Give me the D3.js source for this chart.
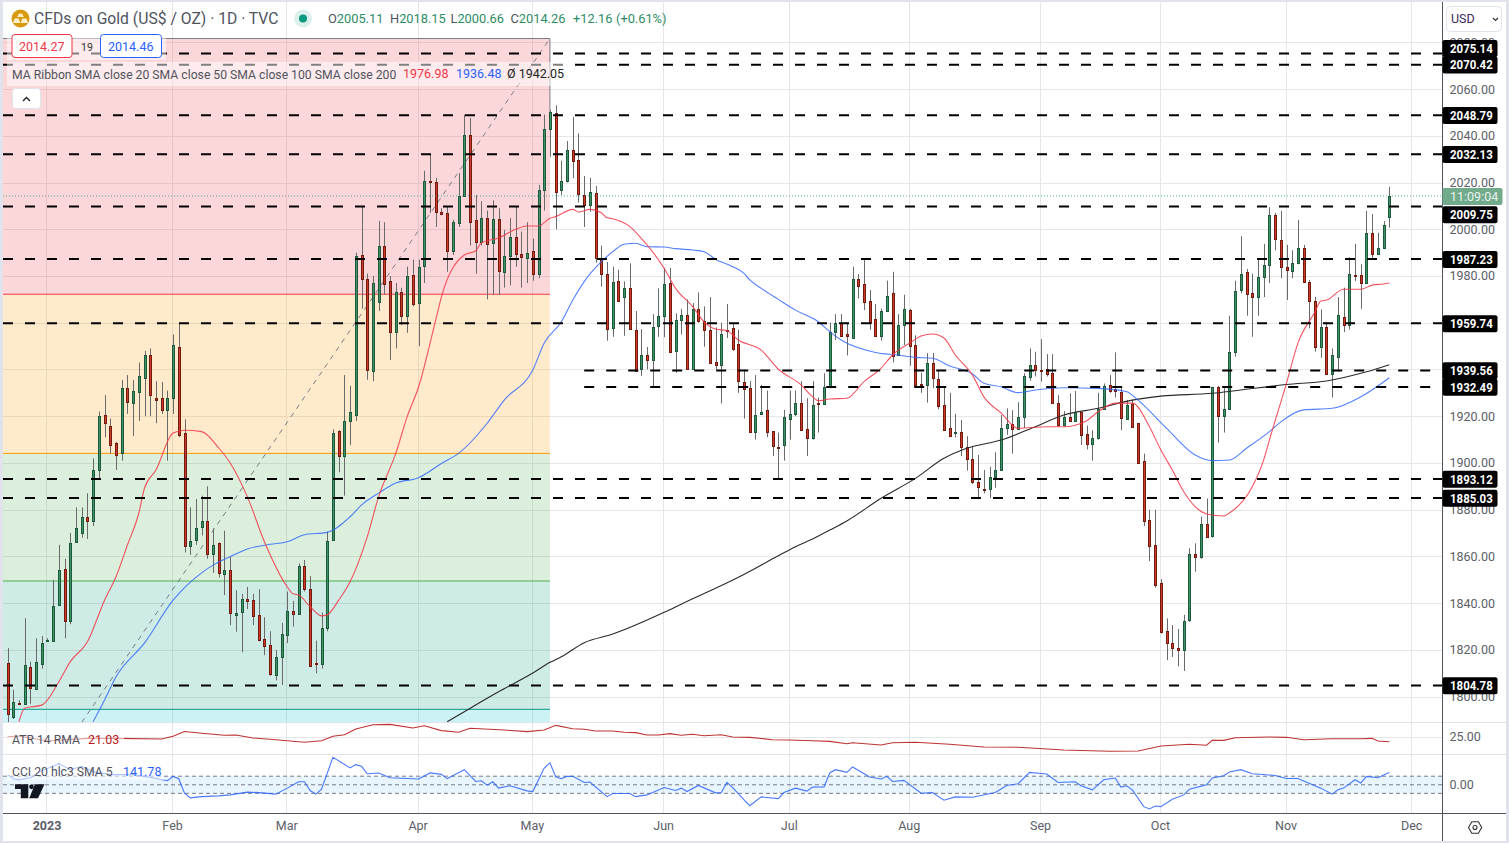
<!DOCTYPE html>
<html><head><meta charset="utf-8">
<style>
html,body{margin:0;padding:0;background:#e0e3eb;overflow:hidden}
svg{display:block}
text{font-family:Roboto,"Liberation Sans",sans-serif}
</style>
<script src="https://cdn.jsdelivr.net/npm/d3@7/dist/d3.min.js"></script>
</head><body><svg id="c" width="1509" height="843"></svg>
<script>
// ---- candle data, one entry per daily bar ----
const opens=[1814.4,1791,1797.3,1797,1812.6,1803.6,1814,1824,1824,1839,1854.6,1832.5,1866,1870,1877,1875,1897,1920.6,1916,1908.6,1904,1932,1926,1930,1936,1946,1928,1928,1923,1928,1949.6,1912.8,1864.6,1867,1872.6,1875,1861,1865.7,1852.6,1854,1835,1836,1842,1841.5,1834.8,1824.5,1822,1809.5,1817,1826.7,1836.8,1835.6,1856,1846,1814.3,1814,1829.6,1867,1913.5,1903,1918,1920.6,1989,1978.6,1939.5,1969,1993,1978,1955.7,1973,1963,1980.4,1968.6,1984,2020.5,2020.3,2007.5,2006.8,1990.4,2003,2014,2040.3,2004,1994.7,2005,1994,2004.4,1982,1988.7,1996.7,1989.4,1987.6,1990.8,1981,2016.5,2042.7,2049.6,2016.5,2020.7,2033.8,2029.5,2014.5,2010.4,2015.4,1987.8,1981,1957.6,1977.7,1971,1974.7,1957,1939.8,1946,1943.8,1958.3,1962.6,1977,1947.6,1961,1963.2,1940,1965.7,1960.6,1957,1943,1941.6,1957,1957.6,1950.8,1934.8,1932,1913.3,1921,1922.5,1913.5,1907,1907.7,1918.8,1921,1925.5,1914.4,1910.7,1925.5,1925,1932.6,1956,1960,1955,1953.3,1978.6,1976.5,1969.3,1961.5,1954.4,1965,1972.6,1946,1959,1965.3,1950.3,1933.6,1933.3,1942.6,1936,1925,1915,1912.7,1913.3,1906.7,1901.5,1891.7,1889,1889,1894,1897,1915,1916.5,1914.4,1919.5,1937,1942,1939.7,1940,1938.3,1925.5,1916,1919.8,1918,1921.7,1912.4,1908,1910.5,1923,1933.4,1931.5,1930.5,1919,1925.2,1917,1900.8,1875.6,1865,1848.5,1828,1823,1821,1820,1832.6,1861,1860,1874,1868.6,1932.6,1920,1923,1947.3,1974,1981.6,1972.6,1971,1979.5,1984.4,2006,1995.3,1983.7,1982,1985.4,1992,1977.3,1969.2,1949.5,1958,1938,1945.5,1962.6,1959,1980.6,1980.6,1977,1998.3,1989.4,1992,2005.11];
const highs=[1820.8,1803,1798.5,1833.6,1815,1825,1826,1825,1850,1865,1859,1870,1881,1881,1887,1902,1922,1929,1919,1909,1935.5,1937.6,1935.5,1943,1948,1949,1935,1934.6,1931,1955,1960,1918.7,1881,1884.6,1886,1890,1872,1866,1871,1860,1845.6,1844,1847,1844,1846,1834,1828,1820,1831.6,1845,1841,1857,1858.5,1851.6,1824,1836,1870.6,1914.4,1914,1937.6,1933,1990,2010,1981,1980,2003.6,2003,1980,1977,1975,1984,1987,1987,2025,2032,2022,2009,2009.6,2004,2024,2049,2047.6,2014.6,2012,2008,2012.4,2009,1999.7,2004.8,2009.6,1999,2003,1996,2019,2049,2051,2053,2029.3,2037.7,2048,2041,2022.8,2022,2018.5,1993,1986,1984,1982.6,1977.7,1985.4,1965,1957.3,1949.6,1963.7,1974.7,1983.4,1983.4,1964,1966,1970,1968.4,1973,1967,1971,1958,1960,1968,1960,1957,1940,1935,1937.6,1933.4,1931,1913.5,1913,1922.7,1931,1931,1935,1927.7,1935,1928,1938.4,1960,1963.7,1963.7,1960,1984,1980.8,1987,1974,1968,1966,1978,1981.8,1963.7,1972,1966,1954.6,1938.6,1947,1947,1939.8,1932.5,1930,1921,1918.4,1911.5,1907,1903.4,1897,1898.4,1904.6,1920.5,1923.4,1922.6,1926,1938.4,1949,1947.6,1953,1946.6,1946.6,1929,1922.2,1929.8,1930.8,1921.7,1916,1914,1930,1934,1937.6,1947.3,1932.6,1927,1927.2,1917,1904,1880,1880,1850.3,1833.5,1830.6,1829,1835,1863.5,1865.6,1877,1884.8,1932.6,1933,1932,1963,1978,1997,1983,1981,1987,1993.7,2009.4,2007,2007.8,1993.3,1991,2004,1993.3,1978.3,1971,1965.7,1960.4,1949,1971,1975,1988,1993.7,1985,2007.8,2006.5,1998.5,2003.5,2018.15];
const lows=[1789,1790.5,1796.5,1797,1797,1803.6,1812,1823.5,1824,1839,1825,1831,1866,1868,1867.5,1873,1893,1911,1904,1897,1901,1921,1911.5,1918,1920,1920,1917,1921,1901,1921,1911,1861.7,1860.7,1865,1869,1859,1853,1851,1843.5,1830.6,1827.8,1819,1837.5,1830.6,1823.7,1817.8,1809,1807,1805,1823,1830,1835,1845,1813,1810,1812,1828,1867,1896,1886,1907.7,1918,1966,1935.6,1935,1965,1972,1944,1949,1959,1955.7,1967,1950,1977,2007,2001,2006,1981.8,1989,2001,2013.9,1993,1981,1993,1970,1971.8,1971.8,1975,1976,1984,1975,1977,1978,1979,2008,2031,2000,2014.6,2020,2021.8,2011.4,2001,2007.5,1985.7,1975.4,1952.3,1954,1969,1954.4,1957,1939,1937.3,1940,1932.6,1954,1953.8,1947,1938.6,1955,1940,1940,1960,1949.7,1942.6,1940,1925.5,1953.5,1948,1930,1919,1913,1910,1921,1911,1903,1893.4,1901,1910,1920,1914,1903,1910,1913,1925,1932,1952.6,1954,1946,1953,1970.4,1965.4,1957,1954,1952.3,1964.7,1943,1946,1950.5,1941.6,1933,1930,1925.8,1932,1923,1914,1911.7,1911,1903,1896.7,1891,1885,1887,1885,1889.4,1897,1912,1904,1914.4,1915,1935.2,1937,1934.8,1937,1925.5,1915.5,1915.5,1918,1918,1907.7,1905.8,1901,1910,1923,1930,1928,1914,1918.4,1915,1899.6,1873,1858,1846.7,1827,1815.7,1817,1813,1811,1832,1853.5,1859,1868,1868,1908.7,1913,1923,1945.5,1972.6,1963,1954,1963,1971,1977,1991,1979,1969.7,1979,1985,1977,1957.6,1947.6,1945,1937.7,1928,1939,1956,1957,1977.8,1966,1977,1987,1989,1991.5,2000.66];
const closes=[1792.6,1797.6,1797.1,1813.5,1803.6,1815,1823,1824.2,1839,1854,1832.5,1865.7,1872,1877,1875.5,1897,1920,1917,1908,1903.6,1932,1925.8,1931,1937,1946,1929,1927,1923,1928,1950.5,1912,1864.6,1866.7,1872,1875,1860.7,1865,1853,1854.3,1835.6,1836,1841.7,1841,1834.8,1824,1821.7,1809.7,1817,1827,1836.8,1835.6,1856,1846,1813,1814,1829.6,1866.7,1912.8,1903,1918,1921.7,1988.7,1978.7,1939.5,1977,1993,1976.6,1956,1973,1962.6,1980,1968,1984,2020.5,2020.3,2007.5,2006.6,1990.4,2003,2014.4,2040.3,2003,1994.7,2005,1994,2004.4,1982,1988.7,1996.7,1989.4,1988,1989.7,1981,2016.8,2042.7,2050,2015.6,2020.5,2034,2029.3,2014.8,2010.4,2015.8,1987.8,1981,1957.6,1977.3,1969,1974.7,1957,1939.5,1946,1943.8,1958,1962.7,1976.4,1947.3,1961,1963.3,1940,1965.7,1960.6,1956.8,1943,1941.6,1955,1956.8,1948.8,1934.8,1932,1913,1920.5,1921.8,1913.3,1907,1906.7,1919.5,1921,1925.5,1914,1910.7,1925,1925.3,1932.4,1956,1960,1954.3,1954,1978.6,1975.8,1969,1960,1954.4,1965,1971.3,1945.8,1959,1965.7,1949.7,1933.3,1933.4,1942.6,1936,1924.5,1914.5,1911.7,1913.2,1907,1901.5,1891.7,1889.6,1888.8,1894,1897,1915,1916.8,1914.4,1919.5,1937,1942,1939.8,1939.5,1938,1925.5,1916.2,1919.5,1918,1921.7,1911.7,1908,1910.5,1923,1933,1931,1930.5,1919.5,1924.8,1915.5,1900,1875.3,1864.6,1848,1827.7,1823,1821,1820,1832.6,1861,1859.6,1874,1868.3,1932.4,1920,1923,1947.3,1973.4,1980.8,1972,1970.7,1979.5,1984.6,2006,1995.7,1983.7,1982.3,1985.4,1992,1977.3,1969.3,1949.5,1958,1938,1946,1963.3,1959,1981,1980.4,1977,1998.3,1989.4,1992,2002,2014.26];

// ---- moving averages: bar number and price ----
const ma20Bars=[2,3,6,9,11,14,17,19,21,23,24,26,29,31,34,37,39,42,45,49,50,51,53,55,56,58,60,63,65,68,70,72,75,76,80,82,83,86,89,91,93,95,96,99,100,102,104,105,106,109,111,112,115,117,120,122,124,126,128,132,135,139,141,142,144,147,150,153,155,158,160,162,164,166,169,171,174,177,182,185,189,191,194,197,200,202,204,206,210,213,214,218,220,221,224,226,229,230,231,234,237,239,241,242];
const ma20Vals=[1789.3,1795.1,1796.4,1806.4,1815,1823.5,1841.3,1851.3,1864.9,1878.6,1889.3,1897,1912.8,1914,1913.4,1906.4,1900,1885.6,1866.3,1847,1844,1843.5,1838.5,1834.6,1835,1841.3,1849.2,1868.4,1885.6,1904.1,1919.8,1932.6,1961.2,1971.1,1989,1990.8,1994.2,1996.3,2000,2001.4,2001.4,2004.7,2005.4,2008.5,2007.4,2008.5,2007.1,2004.9,2004.5,2001.1,1996.1,1993.3,1983.3,1974.7,1966.9,1960.4,1957.3,1956.6,1952.6,1948.3,1940.1,1933.4,1928.3,1926.6,1927.4,1927.7,1934.8,1940.6,1946.2,1951.3,1954.3,1955.2,1953.5,1946.2,1937.6,1928.3,1921.4,1914.8,1915.5,1915.5,1918.1,1921.9,1925.6,1925.6,1915.5,1905.5,1897,1887.7,1878.2,1877.3,1878.6,1889.8,1901.3,1909.8,1934.2,1951.3,1964.7,1969.3,1969.7,1974.3,1974.3,1976.1,1976.6,1976.98];
const ma50Bars=[15,17,19,24,29,34,36,39,42,46,49,52,56,60,62,65,68,72,76,79,84,87,92,94,97,99,101,104,106,108,110,112,115,117,120,122,124,127,129,130,132,135,138,142,144,146,152,156,159,162,165,169,171,174,177,180,185,191,196,198,203,208,211,214,217,221,223,227,232,237,242];
const ma50Vals=[1789.3,1798.6,1808.5,1823,1841.3,1853,1856.3,1859.9,1863.2,1865.2,1866.3,1869.3,1870.3,1877,1882,1887.1,1891.4,1893.7,1899.8,1904.1,1917,1926.9,1939.8,1951.3,1960.4,1969.7,1977.6,1986.1,1990.4,1993.6,1994,1992.5,1992.4,1991.7,1991.1,1990.4,1987.1,1984,1981.1,1978.3,1974.7,1970,1965.4,1960.4,1956.2,1952.6,1947.3,1946.2,1945.2,1944.8,1941.5,1938.1,1934.1,1932.6,1930.1,1931.2,1932.2,1931.9,1930.5,1926.9,1914.8,1903.4,1901,1901.3,1906.3,1913.4,1917.6,1922.7,1923.4,1928.3,1936.48];
const ma200Bars=[77,80,86,92,95,97,101,106,115,118,128,135,138,141,144,147,153,159,164,168,174,180,185,191,197,202,211,215,224,231,238,242];
const ma200Vals=[1789.3,1793.6,1802.1,1810.1,1814.7,1817.1,1823.1,1826.8,1836.1,1839.6,1851.1,1860.3,1864.2,1867.5,1871.3,1875.2,1884.9,1893.4,1902,1906.3,1909.8,1915.5,1920.5,1923.4,1926.9,1928.6,1929.8,1930.9,1933.6,1935.1,1939,1942.05];

// ---- oscillators ----
const atrBars=[0,2,7,14,19,27,29,31,34,38,40,43,47,52,55,57,59,61,64,67,71,73,76,79,81,87,91,94,96,99,101,103,106,108,110,112,114,116,118,120,122,125,127,130,134,137,141,144,147,148,153,155,159,165,171,177,185,193,198,202,207,210,211,213,215,221,224,227,232,237,239,240,242];
const atrVals=[25,25.5,21.6,23.7,23.7,23.2,25.3,29.1,27.7,26.1,26.3,24,22.6,20.6,21.8,25.3,26.6,31.1,34.5,34.8,31.9,33.7,29.8,28.5,31.7,30.3,29,30.3,34,31.3,30.9,29.5,29.5,28.5,28.2,26.3,26.3,27.4,26.1,26.9,25.8,26.6,24.8,24.5,22.6,22.4,21.8,21.3,19.4,20.2,18.4,20.2,20.6,19,16.8,16.6,14.4,13.4,13.7,17.6,19,18.2,22.1,22.1,24.2,24.8,24.5,22.6,23.4,23.4,23.7,21.6,21.03];
const cciBars=[0,1,2,4,6,9,11,13,15,18,22,25,28,29,30,31,32,34,37,39,42,44,47,49,51,52,53,54,55,57,60,61,62,63,65,67,72,74,76,77,80,82,83,84,85,86,88,91,92,94,95,96,97,98,99,101,102,105,106,109,110,112,115,117,118,119,121,124,125,126,127,129,130,132,135,136,138,140,141,143,144,145,147,148,151,153,154,155,157,160,162,164,166,169,173,175,177,179,182,184,187,188,190,192,194,195,196,197,199,200,201,202,204,206,207,210,211,213,214,216,218,222,224,226,230,232,233,234,236,237,238,240,242];
const cciVals=[118,71,59,82,165,244,176,215,153,118,118,86,47,98,71,-98,-153,-138,-129,-118,-86,-91,-109,-39,35,35,-67,-109,-51,321,196,235,215,129,138,82,67,138,121,71,176,39,47,-4,35,-39,-12,-71,-79,196,255,94,71,98,98,27,32,-138,-102,-102,-138,-118,-32,-67,-39,-79,-8,-94,-91,27,-32,-176,-244,-141,-161,-91,-39,-74,-27,-24,138,176,145,208,91,67,98,39,51,-98,-91,-180,-141,-145,-91,-8,12,145,126,27,35,-12,-59,59,79,-27,-12,-59,-255,-282,-247,-255,-168,-118,-51,0,79,106,149,176,129,109,74,74,-39,-109,-59,-39,59,20,98,82,141.78];
const cciBands=[100,0,-100];

// ---- levels, ticks and labels ----
const longLevels=[2075.14,2070.42,2048.79,2032.13,2009.75,1987.23,1959.74,1893.12,1885.03,1804.78];
const shortLevels=[1939.56,1932.49];
const shortLevelStart=101;
const priceTicks=[2080,2060,2040,2020,2000,1980,1960,1940,1920,1900,1880,1860,1840,1820,1800];
const hiddenPriceLabels=[1960,1940];
const monthBars=[7,29,49,72,92,115,137,158,181,202,224,246];
const monthNames=["2023","Feb","Mar","Apr","May","Jun","Jul","Aug","Sep","Oct","Nov","Dec"];
const fibLevels=[2081.6,1972.2,1904.1,1849.5,1794.6,1700];
const fibColors=["#f23645","#ff9800","#4caf50","#089981","#00bcd4"];
const fibLineColors=["#787b86","#f23645","#ff9800","#4caf50","#089981"];
const fibEndBar=95;
const trendBars=[13,95];
const trendVals=[1789,2081.6];
const lastPrice=2014.26;

// ---- scales ----
const W=1509,H=843,L=3,R=1442.5,TOP=2,PB=722.5,AB=754.5,CB=813,RR=1506,BB=841;
const x=d3.scaleLinear().domain([0,242]).range([7.5,1389.3]);
const y=d3.scaleLinear().domain([1800,2020]).range([696.7,182.5]);
const yAtr=d3.scaleLinear().domain([10.87,36.27]).range([AB,PB]);
const yCci=d3.scaleLinear().domain([-329,353]).range([CB,AB]);
const svg=d3.select("#c");
const defs=svg.append("defs");
defs.append("clipPath").attr("id","pp").append("rect").attr("x",L).attr("y",TOP).attr("width",R-L).attr("height",PB-TOP);
svg.append("rect").attr("x",L).attr("y",TOP).attr("width",RR-L).attr("height",BB-TOP).attr("fill","#fff");

// grid
const grid=svg.append("g").attr("stroke","#e6e6e6").attr("stroke-width",1).attr("shape-rendering","crispEdges");
grid.selectAll(".v").data(monthBars).join("line").attr("x1",d=>Math.round(x(d))-.5).attr("x2",d=>Math.round(x(d))-.5).attr("y1",TOP).attr("y2",CB);
grid.selectAll(".h").data(priceTicks).join("line").attr("x1",L).attr("x2",R).attr("y1",d=>Math.round(y(d))+.5).attr("y2",d=>Math.round(y(d))+.5);
grid.append("line").attr("x1",L).attr("x2",R).attr("y1",Math.round(yAtr(25))+.5).attr("y2",Math.round(yAtr(25))+.5);

const pane=svg.append("g").attr("clip-path","url(#pp)");
// fib zones
const fx1=x(fibEndBar);
fibColors.forEach((c,i)=>{
  pane.append("rect").attr("x",L).attr("width",fx1-L).attr("y",y(fibLevels[i])).attr("height",y(fibLevels[i+1])-y(fibLevels[i])).attr("fill",c).attr("fill-opacity",.2);
  pane.append("line").attr("x1",L).attr("x2",fx1).attr("y1",y(fibLevels[i])).attr("y2",y(fibLevels[i])).attr("stroke",fibLineColors[i]).attr("stroke-width",1);
});
pane.append("line").attr("x1",fx1).attr("x2",fx1).attr("y1",y(fibLevels[0])).attr("y2",y(2048)).attr("stroke","#787b86");
pane.append("line").attr("x1",x(trendBars[0])).attr("y1",y(trendVals[0])).attr("x2",x(trendBars[1])).attr("y2",y(trendVals[1])).attr("stroke","#787b86").attr("stroke-width",1).attr("stroke-dasharray","5 5");

// candles
const bars=d3.range(opens.length);
pane.append("g").attr("stroke","#6a6a6a").selectAll("line").data(bars).join("line")
  .attr("x1",i=>Math.round(x(i))+.5).attr("x2",i=>Math.round(x(i))+.5)
  .attr("y1",i=>y(highs[i])).attr("y2",i=>y(lows[i]));
pane.append("g").selectAll("rect").data(bars).join("rect")
  .attr("x",i=>Math.round(x(i))-.5).attr("width",2)
  .attr("y",i=>Math.round(y(Math.max(opens[i],closes[i])))+.5)
  .attr("height",i=>Math.max(1,Math.round(Math.abs(y(opens[i])-y(closes[i])))))
  .attr("fill",i=>closes[i]>=opens[i]?"#3f9268":"#d23a28")
  .attr("stroke",i=>closes[i]>=opens[i]?"#1d5a3b":"#701a10").attr("stroke-width",1);

// MAs
const lineOf=(bs,vs,yy)=>d3.line().x(i=>x(bs[i])).y(i=>yy(vs[i]))(d3.range(bs.length));
const smoothOf=(bs,vs,yy)=>d3.line().curve(d3.curveMonotoneX).x(i=>x(bs[i])).y(i=>yy(vs[i]))(d3.range(bs.length));
pane.append("path").attr("d",smoothOf(ma200Bars,ma200Vals,y)).attr("fill","none").attr("stroke","#2a2a2a").attr("stroke-width",1.1);
pane.append("path").attr("d",smoothOf(ma50Bars,ma50Vals,y)).attr("fill","none").attr("stroke","#2962ff").attr("stroke-opacity",.8).attr("stroke-width",1.1);
pane.append("path").attr("d",smoothOf(ma20Bars,ma20Vals,y)).attr("fill","none").attr("stroke","#f23645").attr("stroke-opacity",.85).attr("stroke-width",1.1);

// dashed levels
const lv=pane.append("g").attr("stroke","#000").attr("stroke-width",2).attr("stroke-dasharray","10 12");
lv.selectAll(".l").data(longLevels).join("line").attr("x1",L).attr("x2",R).attr("y1",d=>y(d)).attr("y2",d=>y(d));
lv.selectAll(".s").data(shortLevels).join("line").attr("x1",x(shortLevelStart)).attr("x2",R).attr("y1",d=>y(d)).attr("y2",d=>y(d));
// last price dotted line
pane.append("line").attr("x1",L).attr("x2",R).attr("y1",y(lastPrice)).attr("y2",y(lastPrice)).attr("stroke","#089981").attr("stroke-opacity",.7).attr("stroke-dasharray","1 2");

// ATR
svg.append("path").attr("d",lineOf(atrBars,atrVals,yAtr)).attr("fill","none").attr("stroke","#b71c1c").attr("stroke-opacity",.9).attr("stroke-width",1.1);
// CCI
svg.append("rect").attr("x",L).attr("width",R-L).attr("y",yCci(100)).attr("height",yCci(-100)-yCci(100)).attr("fill","#2196f3").attr("fill-opacity",.1);
svg.append("g").attr("stroke","#787b86").attr("stroke-dasharray","4 3").selectAll("line").data(cciBands).join("line").attr("x1",L).attr("x2",R).attr("y1",d=>yCci(d)).attr("y2",d=>yCci(d));
svg.append("path").attr("d",lineOf(cciBars,cciVals,yCci)).attr("fill","none").attr("stroke","#2962ff").attr("stroke-opacity",.85).attr("stroke-width",1.1);

// separators and axis lines
const sep=svg.append("g").attr("shape-rendering","crispEdges");
sep.append("line").attr("x1",L).attr("x2",RR).attr("y1",722.5).attr("y2",722.5).attr("stroke","#e0e3eb");
sep.append("line").attr("x1",L).attr("x2",RR).attr("y1",754.5).attr("y2",754.5).attr("stroke","#e0e3eb");
sep.append("line").attr("x1",L).attr("x2",RR).attr("y1",813.5).attr("y2",813.5).attr("stroke","#50535e");
sep.append("line").attr("x1",R).attr("x2",R).attr("y1",TOP).attr("y2",BB).attr("stroke","#50535e");

// axes
const axR=d3.axisRight(y).tickValues(priceTicks.filter(d=>!hiddenPriceLabels.includes(d))).tickFormat(d3.format(".2f")).tickSize(0).tickPadding(7);
const gR=svg.append("g").attr("transform",`translate(${R},0)`).call(axR);
gR.select(".domain").remove();
gR.selectAll("text").attr("fill","#5b5e68").style("font-size","12.5px").style("font-family","Roboto");
const gRA=svg.append("g").attr("transform",`translate(${R},${yAtr(25)-y(2000)})`).call(d3.axisRight(y).tickValues([2000]).tickFormat(()=>"25.00").tickSize(0).tickPadding(7));
gRA.select(".domain").remove();gRA.selectAll("text").attr("fill","#5b5e68").style("font-size","12.5px").style("font-family","Roboto");
const gRC=svg.append("g").attr("transform",`translate(${R},${yCci(0)-y(2000)})`).call(d3.axisRight(y).tickValues([2000]).tickFormat(()=>"0.00").tickSize(0).tickPadding(7));
gRC.select(".domain").remove();gRC.selectAll("text").attr("fill","#5b5e68").style("font-size","12.5px").style("font-family","Roboto");

const axB=d3.axisBottom(x).tickValues(monthBars).tickFormat((d,i)=>monthNames[i]).tickSize(0).tickPadding(8);
const gB=svg.append("g").attr("transform",`translate(-1,${CB})`).call(axB);
gB.select(".domain").remove();
gB.selectAll("text").attr("fill","#5b5e68").style("font-size","12.5px").style("font-family","Roboto").attr("font-weight",(d,i)=>i==0?700:400);

// level tags
const tagNudge=new Map([[2075.14,-5.2],[2009.75,8.2]]);
const allLevels=longLevels.concat(shortLevels);
const tg=svg.append("g").selectAll("g").data(allLevels).join("g").attr("transform",d=>`translate(${R},${y(d)+(tagNudge.get(d)||.3)})`);
tg.append("rect").attr("x",0).attr("y",-8.5).attr("width",55).attr("height",17).attr("rx",2).attr("fill","#000");
tg.append("text").attr("x",7.5).attr("y",4.5).attr("fill","#fff").attr("font-weight",700).attr("font-size",12.5).attr("textLength",42.7).attr("lengthAdjust","spacingAndGlyphs").text(d=>d.toFixed(2));
// countdown
svg.append("rect").attr("x",R).attr("y",188).attr("width",60).attr("height",17).attr("rx",2).attr("fill","#72ab8c");
svg.append("text").attr("x",R+7.5).attr("y",201).attr("fill","#e8f3ec").attr("font-size",12.5).text("11:09:04");

// USD box
svg.append("rect").attr("x",R+4).attr("y",6.5).attr("width",55).attr("height",25).attr("rx",4).attr("fill","#fff").attr("stroke","#e0e3eb");
svg.append("text").attr("x",R+8.5).attr("y",23).attr("fill","#3a2a5a").attr("font-size",12.5).text("USD");
svg.append("path").attr("d","M1493 18l2.5 2.5 2.5-2.5").attr("fill","none").attr("stroke","#333").attr("stroke-width",1.2);

// header
svg.append("circle").attr("cx",20.5).attr("cy",18.5).attr("r",9).attr("fill","#d69a0c");
svg.append("path").attr("d","M17 17l2-3.5h3l2 3.5zM12.8 23l2-4.5h4l1.5 4.5zM20.7 23l1.5-4.5h4l2 4.5z").attr("fill","#fbeec9");
svg.append("text").attr("x",34).attr("y",24).attr("fill","#50535e").attr("font-size",15.7).text("CFDs on Gold (US$ / OZ) · 1D · TVC");
svg.append("circle").attr("cx",303).attr("cy",18.5).attr("r",9).attr("fill","#dcf0ec");
svg.append("circle").attr("cx",303).attr("cy",18.5).attr("r",4).attr("fill","#089981");
const ohlcLabels=[["O","2005.11"],["H","2018.15"],["L","2000.66"],["C","2014.26"]];
const ohlcX=[328,390,450.5,510.5];
const ohlcT=svg.append("text").attr("y",23).attr("font-size",12.8);
ohlcLabels.forEach((p,i)=>{ohlcT.append("tspan").attr("x",ohlcX[i]).attr("fill","#50535e").text(p[0]);ohlcT.append("tspan").attr("fill","#2d8c66").text(p[1]);});
ohlcT.append("tspan").attr("x",573).attr("fill","#2d8c66").text("+12.16");
ohlcT.append("tspan").attr("x",616).attr("fill","#2d8c66").text("(+0.61%)");

// pills
svg.append("rect").attr("x",7).attr("y",33).attr("width",159).attr("height",27).attr("fill","#fff").attr("fill-opacity",.5);
svg.append("rect").attr("x",12).attr("y",34.5).attr("width",60).attr("height",23).attr("rx",3).attr("fill","#fff").attr("stroke","#f23645");
svg.append("text").attr("x",19).attr("y",51).attr("fill","#f23645").attr("font-size",12.5).text("2014.27");
svg.append("text").attr("x",81).attr("y",51).attr("fill","#333").attr("font-size",10.5).text("19");
svg.append("rect").attr("x",100.5).attr("y",34.5).attr("width",61).attr("height",23).attr("rx",3).attr("fill","#fff").attr("stroke","#2962ff");
svg.append("text").attr("x",108).attr("y",51).attr("fill","#2962ff").attr("font-size",12.5).text("2014.46");
// legend
svg.append("rect").attr("x",7).attr("y",62).attr("width",562).attr("height",24).attr("fill","#fff").attr("fill-opacity",.5);
svg.append("text").attr("x",12).attr("y",78.5).attr("fill","#50535e").attr("font-size",12.2).text("MA Ribbon SMA close 20 SMA close 50 SMA close 100 SMA close 200");
svg.append("text").attr("x",403).attr("y",78).attr("fill","#f23645").attr("font-size",12.5).text("1976.98");
svg.append("text").attr("x",456).attr("y",78).attr("fill","#2962ff").attr("font-size",12.5).text("1936.48");
svg.append("text").attr("x",507).attr("y",78).attr("fill","#222").attr("font-size",12.5).text("Ø  1942.05");
svg.append("rect").attr("x",12.5).attr("y",88.5).attr("width",28).attr("height",20).attr("rx",3).attr("fill","#fff").attr("stroke","#e0e3eb");
svg.append("path").attr("d","M23 101l3.5-3.5 3.5 3.5").attr("fill","none").attr("stroke","#222").attr("stroke-width",1.4);

// pane legends
svg.append("rect").attr("x",7).attr("y",732).attr("width",117).attr("height",16).attr("fill","#fff").attr("fill-opacity",.55);
svg.append("text").attr("x",12).attr("y",744).attr("fill","#50535e").attr("font-size",12.2).text("ATR 14 RMA");
svg.append("text").attr("x",88).attr("y",744).attr("fill","#b71c1c").attr("font-size",12.5).text("21.03");
svg.append("rect").attr("x",7).attr("y",764).attr("width",157).attr("height",16).attr("fill","#fff").attr("fill-opacity",.55);
svg.append("text").attr("x",12).attr("y",776).attr("fill","#50535e").attr("font-size",12.2).text("CCI 20 hlc3 SMA 5");
svg.append("text").attr("x",123).attr("y",776).attr("fill","#2962ff").attr("font-size",12.5).text("141.78");

// TradingView mark
svg.append("path").attr("d","M15 784.3h13.3v14h-7.5v-9.2h-5.8z").attr("fill","#131722");
svg.append("circle").attr("cx",31.5).attr("cy",786.8).attr("r",2.4).attr("fill","#131722");
svg.append("path").attr("d","M35 784.3h9.5l-6.5 14h-8.8z").attr("fill","#131722");
// settings
svg.append("path").attr("d","M1468.5 827.5l3.3-5.7h6.6l3.3 5.7-3.3 5.7h-6.6z").attr("fill","none").attr("stroke","#333").attr("stroke-width",1.1);
svg.append("circle").attr("cx",1475).attr("cy",827.5).attr("r",2).attr("fill","none").attr("stroke","#333").attr("stroke-width",1.1);
</script></body></html>
